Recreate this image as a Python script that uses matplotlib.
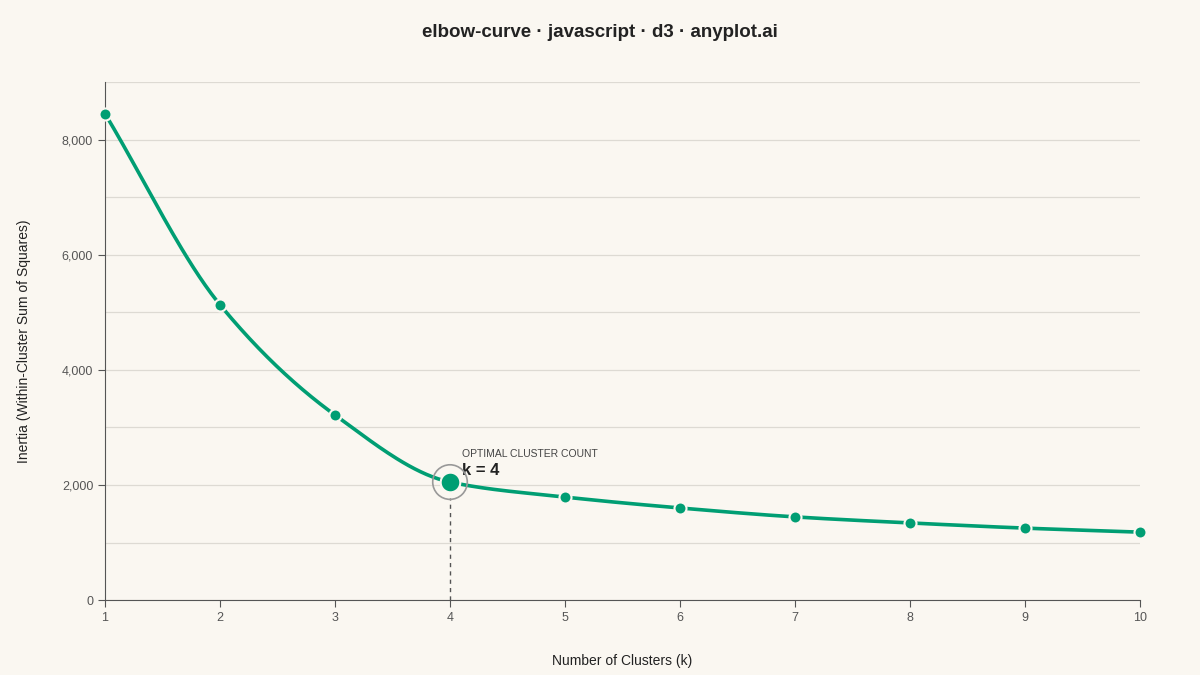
import matplotlib
matplotlib.use('Agg')
import matplotlib.pyplot as plt
import numpy as np

# Data
k_values = [1, 2, 3, 4, 5, 6, 7, 8, 9, 10]
inertia = [8450, 5130, 3215, 2050, 1790, 1600, 1445, 1340, 1250, 1180]
optimal_k = 4

BG = '#FAF7F1'
GREEN = '#009E73'
TEXT = '#222222'
GREY = '#444444'


def monotone_curve(x, y, n=40):
    """Monotone cubic (Fritsch-Carlson) for a smooth line like d3.curveMonotoneX."""
    x = np.asarray(x, float)
    y = np.asarray(y, float)
    h = np.diff(x)
    d = np.diff(y) / h
    m = np.zeros_like(y)
    m[0], m[-1] = d[0], d[-1]
    for i in range(1, len(y) - 1):
        if d[i - 1] * d[i] <= 0:
            m[i] = 0
        else:
            m[i] = 3 * (h[i - 1] + h[i]) / ((2 * h[i] + h[i - 1]) / d[i - 1] + (h[i] + 2 * h[i - 1]) / d[i])
    xs, ys = [], []
    for i in range(len(x) - 1):
        t = np.linspace(0, 1, n)
        h00 = 2 * t**3 - 3 * t**2 + 1
        h10 = t**3 - 2 * t**2 + t
        h01 = -2 * t**3 + 3 * t**2
        h11 = t**3 - t**2
        xs.append(x[i] + t * h[i])
        ys.append(h00 * y[i] + h10 * h[i] * m[i] + h01 * y[i + 1] + h11 * h[i] * m[i + 1])
    return np.concatenate(xs), np.concatenate(ys)


fig = plt.figure(figsize=(12, 6.75), dpi=100, facecolor=BG)
ax = fig.add_axes([0.0875, 0.111, 0.8625, 0.7675], facecolor=BG)

cx, cy = monotone_curve(k_values, inertia)
ax.plot(cx, cy, color=GREEN, linewidth=2.6, zorder=3, clip_on=False)

others = [i for i, k in enumerate(k_values) if k != optimal_k]
ax.scatter([k_values[i] for i in others], [inertia[i] for i in others],
           s=75, color=GREEN, edgecolor=BG, linewidth=1.5, zorder=4, clip_on=False)

oi = k_values.index(optimal_k)
ax.scatter([optimal_k], [inertia[oi]], s=620, facecolor='none',
           edgecolor='#999999', linewidth=1.2, zorder=4)
ax.scatter([optimal_k], [inertia[oi]], s=200, color=GREEN,
           edgecolor=BG, linewidth=1.5, zorder=5)
ax.plot([optimal_k, optimal_k], [0, inertia[oi] - 280], color='#555555',
        linestyle=(0, (3, 3)), linewidth=1, zorder=2)

ax.annotate('OPTIMAL CLUSTER COUNT', (optimal_k, inertia[oi]), xytext=(9, 18),
            textcoords='offset points', fontsize=7.5, color=GREY, family='Liberation Sans')
ax.annotate(f'k = {optimal_k}', (optimal_k, inertia[oi]), xytext=(9, 5),
            textcoords='offset points', fontsize=12, fontweight='bold', color=TEXT,
            family='Liberation Sans')

ax.set_xlim(1, 10)
ax.set_ylim(0, 9000)
ax.set_xticks(k_values)
ax.set_yticks([0, 2000, 4000, 6000, 8000])
ax.set_yticklabels(['0', '2,000', '4,000', '6,000', '8,000'])
ax.set_yticks(np.arange(1000, 9001, 1000), minor=True)
ax.grid(axis='y', which='both', color='#DDDAD3', linewidth=0.9, zorder=0)
ax.tick_params(axis='y', which='minor', length=0)
ax.tick_params(labelsize=9, colors='#555555', length=5)
for lab in ax.get_xticklabels() + ax.get_yticklabels():
    lab.set_family('Liberation Sans')
for s in ['top', 'right']:
    ax.spines[s].set_visible(False)
for s in ['left', 'bottom']:
    ax.spines[s].set_color('#555555')

ax.set_xlabel('Number of Clusters (k)', fontsize=10, color=TEXT, labelpad=22,
              family='Liberation Sans')
ax.set_ylabel('Inertia (Within-Cluster Sum of Squares)', fontsize=10, color=TEXT,
              labelpad=22, family='Liberation Sans')
fig.suptitle('elbow-curve · javascript · d3 · anyplot.ai', y=0.965, fontsize=13.5,
             fontweight='bold', color=TEXT, family='Liberation Sans')

fig.savefig('out.png', dpi=100, facecolor=BG)
